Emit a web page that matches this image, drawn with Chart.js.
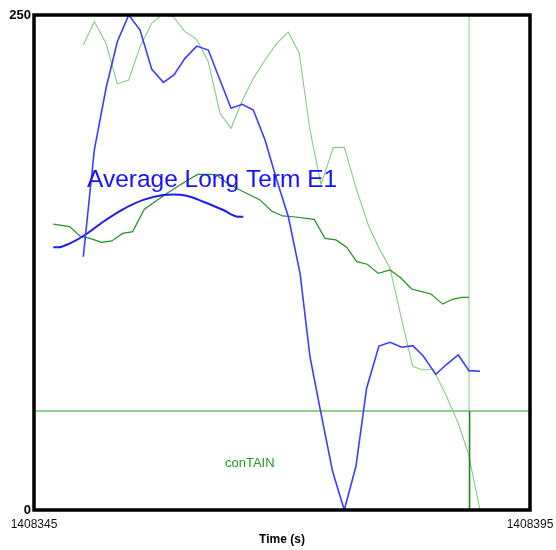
<!DOCTYPE html>
<html>
<head>
<meta charset="utf-8">
<script src="https://cdn.jsdelivr.net/npm/chart.js@4/dist/chart.umd.min.js"></script>
<style>
html,body{margin:0;padding:0;background:#fff;}
#wrap{width:556px;height:550px;position:relative;}
</style>
</head>
<body>
<div id="wrap"><canvas id="c" width="556" height="550"></canvas></div>
<script>
// ---- data (time in s, values) ----
const T0 = 1408345, T1 = 1408395;
const xTickLabels = ["1408345", "1408395"];
const yTickValues = [0, 250];

const lightGreenT = [4.97,6.08,7.26,8.40,9.55,10.69,11.86,12.87,14.04,15.22,16.40,17.57,18.75,19.86,20.94,22.11,23.29,24.47,25.64,26.74,27.82,28.93,30.17,31.28,32.53,33.70,34.71,35.89,37.07,38.18,39.24,40.25,41.60,42.77,43.78,44.96];
const lightGreenV = [234.8,246.6,235.7,215.2,217.2,234.0,245.8,250.0,249.1,241.6,237.7,226.4,200.4,192.8,206.2,218.0,227.3,235.7,241.3,230.7,191.9,164.5,183.0,183.2,161.6,143.9,133.0,122.1,96.0,72.4,70.7,71.1,57.2,43.8,28.6,0.0];

const blueT = [4.97,6.08,7.26,8.40,9.55,10.69,11.86,13.04,14.11,15.22,16.40,17.57,19.86,20.99,22.11,23.29,24.47,25.64,26.82,27.82,28.93,30.11,31.28,32.46,33.53,34.77,35.89,37.07,38.18,39.24,40.50,41.60,42.77,43.85,44.96];
const blueV = [127.9,181.8,213.0,236.5,250.0,242.4,222.7,216.0,219.7,228.1,234.3,232.3,202.9,204.9,202.0,186.9,166.7,148.1,119.5,77.4,48.8,19.3,0.0,22.2,61.5,82.8,84.7,82.2,83.0,77.8,68.5,73.6,78.3,70.4,70.1];

const darkGreenT = [1.95,3.58,4.64,5.65,6.82,7.84,8.94,9.95,11.12,12.30,13.37,14.55,15.66,16.50,17.74,18.41,19.43,20.60,21.77,22.78,23.95,25.05,26.12,28.25,29.33,30.44,31.52,32.53,33.60,34.71,35.89,36.96,38.07,39.08,40.02,41.20,42.20,43.12,43.85];
const darkGreenV = [144.4,143.1,138.4,137.2,135.2,135.9,139.7,140.6,151.9,156.1,159.9,163.6,167.0,169.5,169.5,169.2,165.3,162.0,159.1,156.6,151.0,148.5,148.1,146.8,137.2,136.4,132.7,125.4,124.1,119.5,121.2,117.3,111.6,110.3,109.1,104.0,106.4,107.4,107.4];

const avgT = [1.95,2.45,3.63,5.14,6.98,8.84,11.02,13.04,14.04,15.39,17.06,19.08,20.59,21.10];
const avgV = [132.7,132.7,134.7,138.9,145.6,151.5,156.6,159.1,159.4,158.7,155.7,151.5,148.1,148.1];

const limitValue = 50;      // horizontal reference level
const markerT = 43.85;      // vertical reference time

const title = "Average Long Term E1";
const label2 = "conTAIN";
const xTitle = "Time (s)";

function pts(ts, vs){ return ts.map((t,i)=>({x:T0+t, y:vs[i]})); }

const framePlugin = {
  id:'frame',
  afterDraw(chart){
    const {ctx, chartArea:a} = chart;
    ctx.save();
    ctx.strokeStyle = '#000';
    ctx.lineWidth = 3.5;
    ctx.strokeRect(a.left, a.top, a.right - a.left, a.bottom - a.top);
    // annotations (text)
    ctx.fillStyle = '#1212ff';
    ctx.font = '24.5px "Liberation Sans", Arial, sans-serif';
    ctx.textBaseline = 'alphabetic';
    ctx.textAlign = 'left';
    ctx.fillText(title, 87, 187);
    ctx.fillStyle = '#229922';
    ctx.font = '13px "Liberation Sans", Arial, sans-serif';
    ctx.fillText(label2, 225, 467);
    ctx.restore();
  }
};

// Chart.js draws the first dataset on top
new Chart(document.getElementById('c'), {
  type:'line',
  data:{
    datasets:[
      {data:[{x:T0+markerT+0.07,y:0},{x:T0+markerT+0.07,y:limitValue}], borderColor:'#1f801f', borderWidth:1.3, pointRadius:0, tension:0},
      {data:pts(blueT, blueV), borderColor:'#3c3cff', borderWidth:1.6, pointRadius:0, tension:0},
      {data:pts(avgT, avgV), borderColor:'#1c1cf0', borderWidth:2, pointRadius:0, cubicInterpolationMode:'monotone'},
      {data:pts(darkGreenT, darkGreenV), borderColor:'#239123', borderWidth:1.2, pointRadius:0, tension:0},
      {data:pts(lightGreenT, lightGreenV), borderColor:'#84cc84', borderWidth:1.1, pointRadius:0, tension:0},
      {data:[{x:T0,y:limitValue},{x:T1,y:limitValue}], borderColor:'#6cbf6c', borderWidth:1.6, pointRadius:0, tension:0},
      {data:[{x:T0+markerT,y:0},{x:T0+markerT,y:250}], borderColor:'#b4dab4', borderWidth:1.6, pointRadius:0, tension:0}
    ]
  },
  options:{
    responsive:false,
    animation:false,
    events:[],
    layout:{padding:{top:15, right:26, left:0, bottom:0}},
    plugins:{legend:{display:false}, tooltip:{enabled:false}},
    scales:{
      x:{
        type:'linear', min:T0, max:T1,
        grid:{display:false, drawTicks:false},
        border:{display:false},
        afterBuildTicks(s){ s.ticks = [{value:T0},{value:T1}]; },
        afterFit(s){ s.height = 40; s.paddingLeft = 0; s.paddingRight = 0; },
        ticks:{
          padding:7, maxRotation:0, autoSkip:false, color:'#111',
          font:{family:'"Liberation Sans", Arial, sans-serif', size:12},
          callback(v){ return v===T0 ? xTickLabels[0] : xTickLabels[1]; }
        },
        title:{display:true, text:xTitle, color:'#000', padding:{top:0,bottom:3},
          font:{family:'"Liberation Sans", Arial, sans-serif', size:12, weight:'bold'}}
      },
      y:{
        type:'linear', min:0, max:250,
        grid:{display:false, drawTicks:false},
        border:{display:false},
        afterBuildTicks(s){ s.ticks = yTickValues.map(v=>({value:v})); },
        afterFit(s){ s.width = 34; s.paddingTop = 0; s.paddingBottom = 0; },
        ticks:{
          padding:3, color:'#000',
          font:{family:'"Liberation Sans", Arial, sans-serif', size:13, weight:'bold'}
        }
      }
    }
  },
  plugins:[framePlugin]
});
</script>
</body>
</html>
